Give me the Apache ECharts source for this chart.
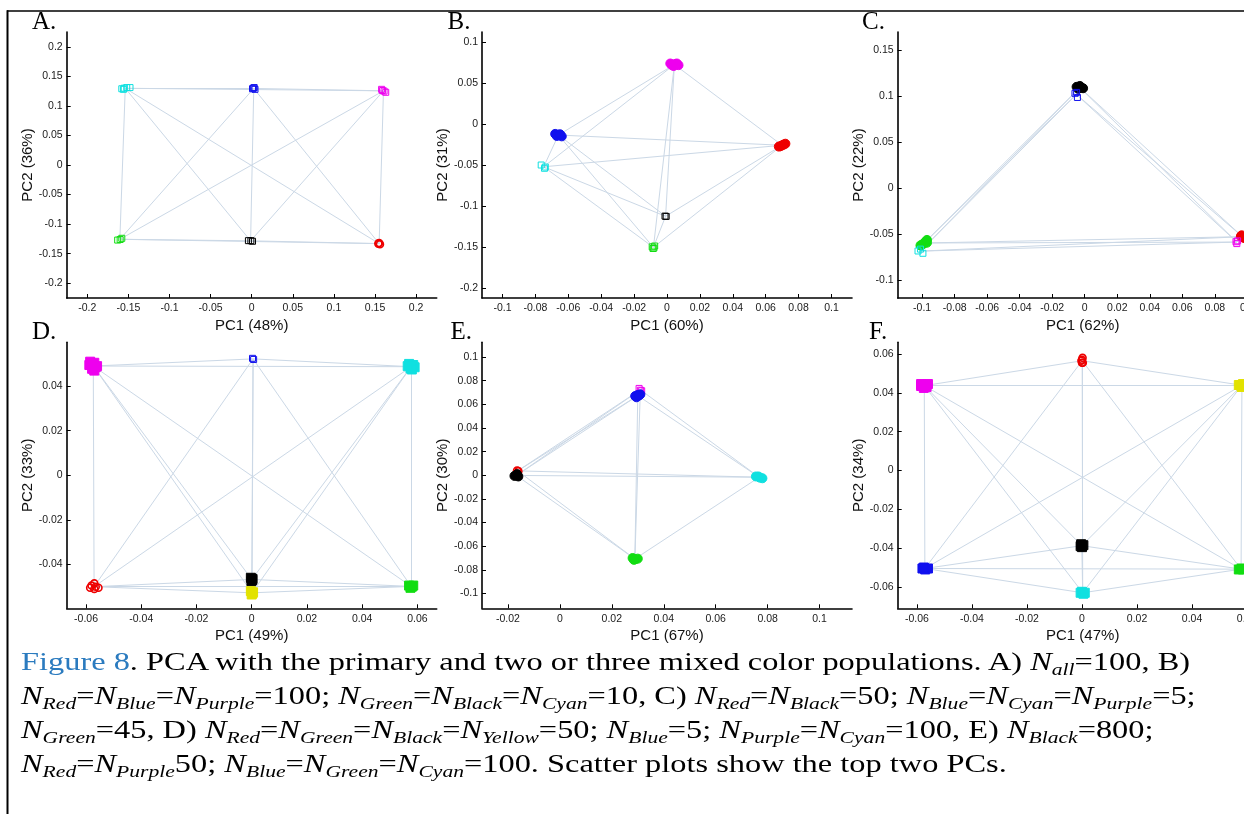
<!DOCTYPE html>
<html>
<head>
<meta charset="utf-8">
<title>Figure 8 – PCA of mixed color populations</title>
<script src="https://cdn.jsdelivr.net/npm/echarts@6/dist/echarts.min.js"></script>
<style>
  html, body { margin: 0; padding: 0; background: #fff; }
  #wrap { position: relative; width: 1244px; height: 814px; overflow: hidden; }
  #chart { position: absolute; left: 0; top: 0; width: 1244px; height: 814px; }
  #caption {
    position: absolute; left: 21px; top: 645px; white-space: nowrap;
    font-family: "Liberation Serif", "Times New Roman", serif;
    font-size: 25.5px; line-height: 34px; color: #000;
    transform: scaleX(1.27); transform-origin: 0 0;
  }
  #caption .fig { color: #2b7bbf; }
  #caption i { font-style: italic; }
  #caption .s { font-style: italic; font-size: 17px; position: relative; top: 5px; line-height: 0; }
</style>
</head>
<body>
<div id="wrap">
  <div id="chart"></div>
  <div id="caption">
    <span class="fig">Figure 8</span>. PCA with the primary and two or three mixed color populations. A) <i>N</i><span class="s">all</span>=100, B)<br>
    <i>N</i><span class="s">Red</span>=<i>N</i><span class="s">Blue</span>=<i>N</i><span class="s">Purple</span>=100; <i>N</i><span class="s">Green</span>=<i>N</i><span class="s">Black</span>=<i>N</i><span class="s">Cyan</span>=10, C) <i>N</i><span class="s">Red</span>=<i>N</i><span class="s">Black</span>=50; <i>N</i><span class="s">Blue</span>=<i>N</i><span class="s">Cyan</span>=<i>N</i><span class="s">Purple</span>=5;<br>
    <i>N</i><span class="s">Green</span>=45, D) <i>N</i><span class="s">Red</span>=<i>N</i><span class="s">Green</span>=<i>N</i><span class="s">Black</span>=<i>N</i><span class="s">Yellow</span>=50; <i>N</i><span class="s">Blue</span>=5; <i>N</i><span class="s">Purple</span>=<i>N</i><span class="s">Cyan</span>=100, E) <i>N</i><span class="s">Black</span>=800;<br>
    <i>N</i><span class="s">Red</span>=<i>N</i><span class="s">Purple</span>50; <i>N</i><span class="s">Blue</span>=<i>N</i><span class="s">Green</span>=<i>N</i><span class="s">Cyan</span>=100. Scatter plots show the top two PCs.
  </div>
</div>
<script>
// ---------- Tick values per panel ----------
const A_xTicks = [-0.2, -0.15, -0.1, -0.05, 0, 0.05, 0.1, 0.15, 0.2];
const A_yTicks = [-0.2, -0.15, -0.1, -0.05, 0, 0.05, 0.1, 0.15, 0.2];
const B_xTicks = [-0.1, -0.08, -0.06, -0.04, -0.02, 0, 0.02, 0.04, 0.06, 0.08, 0.1];
const B_yTicks = [-0.2, -0.15, -0.1, -0.05, 0, 0.05, 0.1];
const C_xTicks = [-0.1, -0.08, -0.06, -0.04, -0.02, 0, 0.02, 0.04, 0.06, 0.08, 0.1];
const C_yTicks = [-0.1, -0.05, 0, 0.05, 0.1, 0.15];
const D_xTicks = [-0.06, -0.04, -0.02, 0, 0.02, 0.04, 0.06];
const D_yTicks = [-0.06, -0.04, -0.02, 0, 0.02, 0.04];
const E_xTicks = [-0.02, 0, 0.02, 0.04, 0.06, 0.08, 0.1];
const E_yTicks = [-0.1, -0.08, -0.06, -0.04, -0.02, 0, 0.02, 0.04, 0.06, 0.08, 0.1];
const F_xTicks = [-0.06, -0.04, -0.02, 0, 0.02, 0.04, 0.06];
const F_yTicks = [-0.06, -0.04, -0.02, 0, 0.02, 0.04, 0.06];

// ---------- Explained variance per PC ----------
const pc1Share = [48, 60, 62, 49, 67, 47];
const pc2Share = [36, 31, 22, 33, 30, 34];

// ---------- Sample scores [PC1, PC2] per population ----------
// A) all populations 100
const A_cyan    = [[-0.158, 0.129], [-0.155, 0.130], [-0.152, 0.131], [-0.148, 0.131], [-0.156, 0.128]];
const A_blue    = [[0.002, 0.130], [0.004, 0.128], [0.003, 0.131], [0.001, 0.129]];
const A_magenta = [[0.158, 0.128], [0.161, 0.125], [0.163, 0.123], [0.159, 0.126]];
const A_green   = [[-0.163, -0.127], [-0.160, -0.126], [-0.158, -0.124]];
const A_black   = [[-0.004, -0.128], [-0.001, -0.128], [0.001, -0.129]];
const A_red     = [[0.154, -0.133], [0.156, -0.134], [0.155, -0.132]];

// B)
const B_magenta = [[0.002, 0.074], [0.005, 0.0735], [0.007, 0.072], [0.004, 0.071], [0.003, 0.072], [0.006, 0.074]];
const B_blue    = [[-0.068, -0.012], [-0.066, -0.013], [-0.064, -0.015], [-0.067, -0.0145], [-0.065, -0.0125]];
const B_red     = [[0.069, -0.027], [0.071, -0.025], [0.072, -0.024], [0.070, -0.026], [0.068, -0.0275]];
const B_cyan    = [[-0.0765, -0.050], [-0.074, -0.0525], [-0.0745, -0.054]];
const B_black   = [[-0.0012, -0.1125], [-0.0005, -0.1128]];
const B_green   = [[-0.009, -0.150], [-0.008, -0.1515], [-0.0075, -0.149], [-0.0085, -0.152]];

// C)
const C_black   = [[-0.005, 0.110], [-0.003, 0.111], [-0.002, 0.109], [-0.004, 0.108], [-0.001, 0.1085]];
const C_blue    = [[-0.006, 0.103], [-0.0045, 0.0985], [-0.005, 0.104]];
const C_green   = [[-0.101, -0.062], [-0.099, -0.060], [-0.098, -0.058], [-0.100, -0.061], [-0.097, -0.059], [-0.097, -0.056]];
const C_cyan    = [[-0.1025, -0.068], [-0.0995, -0.0705], [-0.101, -0.066]];
const C_red     = [[0.096, -0.052], [0.0975, -0.053], [0.098, -0.054], [0.0965, -0.051]];
const C_magenta = [[0.093, -0.058], [0.0935, -0.060], [0.094, -0.057]];

// D)
const D_magenta = [[-0.0585, 0.051], [-0.057, 0.0505], [-0.056, 0.049], [-0.0578, 0.0478], [-0.057, 0.047], [-0.0588, 0.0495], [-0.0565, 0.0485]];
const D_blue    = [[0.0003, 0.0525], [0.0007, 0.052]];
const D_cyan    = [[0.057, 0.050], [0.0585, 0.0495], [0.0575, 0.048], [0.059, 0.0485], [0.058, 0.0475], [0.0565, 0.049]];
const D_red     = [[-0.058, -0.0495], [-0.0565, -0.050], [-0.057, -0.0485], [-0.0555, -0.0505], [-0.0585, -0.0505], [-0.057, -0.051]];
const D_black   = [[-0.0003, -0.046], [0.0002, -0.047], [-0.0001, -0.0475], [0.0003, -0.0465]];
const D_yellow  = [[-0.0003, -0.052], [0.0003, -0.053], [0.0, -0.0535], [0.0005, -0.0525]];
const D_green   = [[0.057, -0.0495], [0.058, -0.050], [0.0575, -0.0505], [0.0585, -0.0495]];

// E)
const E_magenta = [[0.0305, 0.0735], [0.031, 0.072], [0.0315, 0.0715]];
const E_blue    = [[0.029, 0.067], [0.030, 0.068], [0.031, 0.0685], [0.0295, 0.066], [0.0305, 0.0675]];
const E_red     = [[-0.0165, 0.004], [-0.016, 0.0035]];
const E_black   = [[-0.017, 0.000], [-0.016, -0.001], [-0.0165, 0.001], [-0.0175, -0.0005]];
const E_cyan    = [[0.0755, -0.001], [0.077, -0.002], [0.078, -0.0025], [0.0765, -0.001]];
const E_green   = [[0.028, -0.070], [0.029, -0.071], [0.030, -0.0705], [0.0285, -0.0715]];

// F)
const F_red     = [[0.0, 0.057], [0.0003, 0.0555], [-0.0002, 0.0565], [0.0002, 0.058], [0.0, 0.0555]];
const F_magenta = [[-0.0585, 0.0445], [-0.057, 0.044], [-0.0575, 0.0425], [-0.056, 0.0445], [-0.0585, 0.0435], [-0.0565, 0.043]];
const F_yellow  = [[0.057, 0.044], [0.0585, 0.0445], [0.058, 0.043], [0.059, 0.044]];
const F_black   = [[-0.0005, -0.039], [0.0005, -0.0385], [0.0, -0.0395], [-0.0003, -0.038]];
const F_blue    = [[-0.058, -0.0505], [-0.057, -0.051], [-0.056, -0.0505], [-0.0575, -0.050]];
const F_cyan    = [[-0.0005, -0.063], [0.0005, -0.0635], [0.0, -0.0625], [0.001, -0.063]];
const F_green   = [[0.057, -0.051], [0.058, -0.0505], [0.0585, -0.051]];

// ---------- Styling ----------
const COL = {
  red: '#ee0000', blue: '#1010ee', magenta: '#ee00ee', cyan: '#10e0e0',
  green: '#11dd11', black: '#000000', yellow: '#e2e200'
};
const EDGE = '#cbd8e6';
const AXIS_FONT = '"Liberation Sans", Arial, sans-serif';
const SERIF = '"Liberation Serif", "Times New Roman", serif';
const PLOT_W = 370, PLOT_H = 266;

// cluster tuple: [points, colour, symbol, dense]
const panels = [
  { label: 'A.', left: 66.7, top: 32, lx: 32, ly: 22.5,
    xr: [-0.225, 0.225], yr: [-0.225, 0.225], xt: A_xTicks, yt: A_yTicks,
    clusters: [[A_cyan, 'cyan', 'rect', false], [A_blue, 'blue', 'rect', false], [A_magenta, 'magenta', 'rect', false],
               [A_green, 'green', 'rect', false], [A_black, 'black', 'rect', false], [A_red, 'red', 'circle', false]] },
  { label: 'B.', left: 482, top: 32, lx: 447.5, ly: 22.5,
    xr: [-0.1125, 0.1125], yr: [-0.2125, 0.1125], xt: B_xTicks, yt: B_yTicks,
    clusters: [[B_magenta, 'magenta', 'circle', true], [B_blue, 'blue', 'circle', true], [B_red, 'red', 'circle', true],
               [B_cyan, 'cyan', 'rect', false], [B_black, 'black', 'rect', false], [B_green, 'green', 'rect', false]] },
  { label: 'C.', left: 897.7, top: 32, lx: 862, ly: 22.5,
    xr: [-0.115, 0.1125], yr: [-0.119, 0.1695], xt: C_xTicks, yt: C_yTicks,
    clusters: [[C_black, 'black', 'circle', true], [C_blue, 'blue', 'rect', false], [C_green, 'green', 'circle', true],
               [C_cyan, 'cyan', 'rect', false], [C_red, 'red', 'circle', true], [C_magenta, 'magenta', 'rect', false]] },
  { label: 'D.', left: 66.7, top: 342.3, lx: 32, ly: 332,
    xr: [-0.067, 0.067], yr: [-0.0597, 0.0597], xt: D_xTicks, yt: D_yTicks,
    clusters: [[D_magenta, 'magenta', 'rect', true], [D_blue, 'blue', 'rect', false], [D_cyan, 'cyan', 'rect', true],
               [D_red, 'red', 'circle', false], [D_black, 'black', 'rect', true], [D_yellow, 'yellow', 'rect', true],
               [D_green, 'green', 'rect', true]] },
  { label: 'E.', left: 482, top: 342.3, lx: 450.5, ly: 332,
    xr: [-0.03, 0.1125], yr: [-0.1125, 0.1125], xt: E_xTicks, yt: E_yTicks,
    clusters: [[E_magenta, 'magenta', 'rect', false], [E_blue, 'blue', 'circle', true], [E_red, 'red', 'circle', false],
               [E_black, 'black', 'circle', true], [E_cyan, 'cyan', 'circle', true], [E_green, 'green', 'circle', true]] },
  { label: 'F.', left: 897.7, top: 342.3, lx: 869, ly: 332,
    xr: [-0.067, 0.0675], yr: [-0.071, 0.066], xt: F_xTicks, yt: F_yTicks,
    clusters: [[F_red, 'red', 'circle', false], [F_magenta, 'magenta', 'rect', true], [F_yellow, 'yellow', 'rect', true],
               [F_black, 'black', 'rect', true], [F_blue, 'blue', 'rect', true], [F_cyan, 'cyan', 'rect', true],
               [F_green, 'green', 'rect', true]] }
];

function fmt(v) { return String(+v.toFixed(3)); }
function centroid(pts) {
  let sx = 0, sy = 0;
  pts.forEach(p => { sx += p[0]; sy += p[1]; });
  return [sx / pts.length, sy / pts.length];
}

const grids = [], xAxes = [], yAxes = [], series = [], graphics = [];

panels.forEach((p, i) => {
  grids.push({ left: p.left, top: p.top, width: PLOT_W, height: PLOT_H, containLabel: false, outerBoundsMode: 'none' });

  const axisCommon = {
    type: 'value',
    gridIndex: i,
    axisLine: { show: true, onZero: false, lineStyle: { color: '#000', width: 1.6 } },
    splitLine: { show: false },
    nameLocation: 'middle',
    nameTextStyle: { fontFamily: AXIS_FONT, fontSize: 15, color: '#111' }
  };

  xAxes.push(Object.assign({}, axisCommon, {
    min: p.xr[0], max: p.xr[1],
    name: 'PC1 (' + pc1Share[i] + '%)', nameGap: 20,
    axisTick: { show: true, inside: true, length: 4, customValues: p.xt, lineStyle: { color: '#000', width: 1 } },
    axisLabel: { show: true, customValues: p.xt, formatter: fmt, margin: 5,
                 fontFamily: AXIS_FONT, fontSize: 10.5, color: '#1a1a1a' }
  }));

  yAxes.push(Object.assign({}, axisCommon, {
    min: p.yr[0], max: p.yr[1],
    name: 'PC2 (' + pc2Share[i] + '%)', nameGap: 29,
    axisTick: { show: true, inside: true, length: 4, customValues: p.yt, lineStyle: { color: '#000', width: 1 } },
    axisLabel: { show: true, customValues: p.yt, formatter: fmt, margin: 4,
                 fontFamily: AXIS_FONT, fontSize: 10.5, color: '#1a1a1a' }
  }));

  // connecting lines between every pair of population centres
  const centres = p.clusters.map(c => centroid(c[0]));
  const edges = [];
  for (let a = 0; a < centres.length; a++) {
    for (let b = a + 1; b < centres.length; b++) {
      edges.push({ coords: [centres[a], centres[b]] });
    }
  }
  series.push({
    type: 'lines', coordinateSystem: 'cartesian2d', xAxisIndex: i, yAxisIndex: i,
    data: edges, silent: true, z: 1, polyline: false,
    lineStyle: { color: EDGE, width: 1, opacity: 1, curveness: 0 }
  });

  p.clusters.forEach(c => {
    const [pts, colName, sym, dense] = c;
    const col = COL[colName];
    series.push({
      type: 'scatter', xAxisIndex: i, yAxisIndex: i, data: pts, silent: true, z: 3,
      symbol: sym, symbolSize: dense ? 9 : (sym === 'circle' ? 7 : 6),
      itemStyle: dense
        ? { color: col, borderColor: col, borderWidth: 1, opacity: 1 }
        : { color: 'rgba(255,255,255,0)', borderColor: col, borderWidth: sym === 'circle' ? 1.6 : 1, opacity: 1 }
    });
  });

  graphics.push({
    type: 'text', x: p.lx, y: p.ly, z: 10,
    style: { text: p.label, font: '25px ' + SERIF, fill: '#000', verticalAlign: 'middle', align: 'left' }
  });
});

// figure frame
graphics.push({ type: 'line', z: 10, shape: { x1: 7, y1: 11, x2: 1244, y2: 11 }, style: { stroke: '#000', lineWidth: 1.5 } });
graphics.push({ type: 'line', z: 10, shape: { x1: 7.5, y1: 10.3, x2: 7.5, y2: 814 }, style: { stroke: '#000', lineWidth: 2 } });

const chart = echarts.init(document.getElementById('chart'), null, { renderer: 'canvas' });
chart.setOption({
  animation: false,
  backgroundColor: '#fff',
  grid: grids,
  xAxis: xAxes,
  yAxis: yAxes,
  series: series,
  graphic: graphics
});
</script>
</body>
</html>
